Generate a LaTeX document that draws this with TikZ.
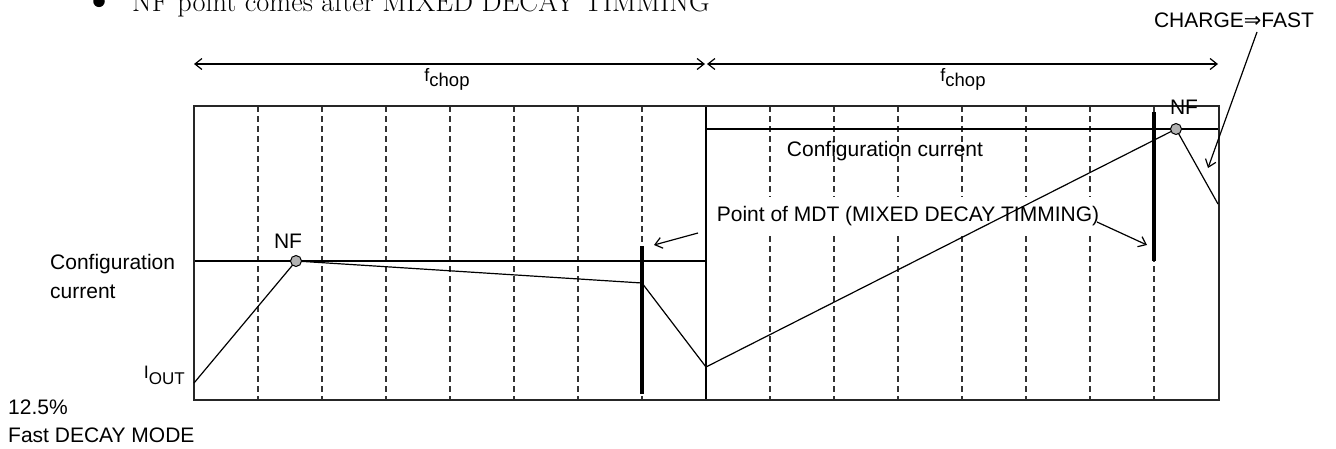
\documentclass[tikz,border=0pt]{standalone}
\usepackage{fontspec}
\newfontfamily\arial{Liberation Sans}
\newfontfamily\djfont{DejaVu Sans}
\usetikzlibrary{arrows.meta}
\tikzset{
  txt/.style={font=\arial\fontsize{21}{29}\selectfont, inner sep=0pt},
  thin/.style={line width=1.2pt, black},
  boxline/.style={line width=1.5pt, black!85},
  dashln/.style={line width=1.2pt, black!80, dash pattern=on 6pt off 4pt},
  bar/.style={line width=4pt, black},
  arr/.style={line width=1.2pt, -{Straight Barb[length=7pt,width=11pt,line width=1.2pt]}},
  darr/.style={line width=1.2pt, {Straight Barb[length=7pt,width=11pt,line width=1.2pt]}-{Straight Barb[length=7pt,width=11pt,line width=1.2pt]}},
  nfdot/.style={circle, draw=black, line width=1pt, fill=black!30, minimum size=11pt, inner sep=0pt},
}
\begin{document}
\begin{tikzpicture}[x=1pt,y=-1pt]
\useasboundingbox (0,0) rectangle (1336,448);
% title (cut off at top)
\node[circle, fill=black, minimum size=11.5pt, inner sep=0pt] (bul) at (99,1.3) {};
\node[anchor=base west, inner sep=0pt, font=\fontsize{28.3}{28.3}\selectfont] (title) at (132,11.7) {NF point comes after MIXED DECAY TIMMING};
% top period arrows
\coordinate (t0) at (194,64);
\coordinate (t1) at (705,64);
\coordinate (t2) at (707,64);
\coordinate (t3) at (1218,64);
\draw[darr] (t0) -- (t1);
\draw[darr] (t2) -- (t3);
\node[txt, font=\arial\fontsize{18}{18}\selectfont] (f1) at (447,79) {f\raisebox{-0.27em}{\fontsize{18.5}{18.5}\selectfont chop}};
\node[txt, font=\arial\fontsize{18}{18}\selectfont] (f2) at (963,79) {f\raisebox{-0.27em}{\fontsize{18.5}{18.5}\selectfont chop}};
% grid
\foreach \x in {258,322,...,642} \draw[dashln] (\x,106) -- (\x,400);
\foreach \x in {770,834,...,1154} \draw[dashln] (\x,106) -- (\x,400);
\draw[thin] (706,106) -- (706,400);
\draw[thin] (194,261) -- (706,261);
\draw[thin] (706,129) -- (1219,129);
\draw[boxline] (194,106) rectangle (1219,400);
% MDT label
\node[txt, fill=white, minimum height=38pt, inner xsep=5pt] (mdt) at (908,216) {Point of MDT (MIXED DECAY TIMMING)};
\node[txt] (cc2) at (885,151) {Configuration current};
% thick bars
\coordinate (b1t) at (642,246);
\coordinate (b1b) at (642,394);
\coordinate (b2t) at (1154,112);
\coordinate (b2b) at (1154,261);
\draw[bar] (b1t) -- (b1b);
\draw[bar] (b2t) -- (b2b);
% waveform
\coordinate (p0) at (194,383);
\coordinate (n1) at (296,261);
\coordinate (p2) at (642,283);
\coordinate (p3) at (706,367);
\coordinate (n2) at (1176,129);
\coordinate (p5) at (1218,204);
\draw[thin] (p0) -- (n1) -- (p2) -- (p3) -- (n2) -- (p5);
\node[nfdot] (dot1) at (n1) {};
\node[nfdot] (dot2) at (n2) {};
\node[txt] (nf1) at (288,241) {NF};
\node[txt] (nf2) at (1184,107) {NF};
% MDT arrows
\coordinate (a1s) at (698,233);
\coordinate (a1e) at (654,245);
\coordinate (a2s) at (1097,222);
\coordinate (a2e) at (1147,245);
\draw[arr] (a1s) -- (a1e);
\draw[arr] (a2s) -- (a2e);
% charge -> fast
\node[txt] (chg) at (1234,20) {CHARGE{\djfont ⇒}FAST};
\coordinate (c1s) at (1257,32);
\coordinate (c1e) at (1208,168);
\draw[arr] (c1s) -- (c1e);
% left labels
\node[txt, anchor=west, align=left] (cc1) at (50,276) {Configuration\\current};
\node[txt, anchor=east, font=\arial\fontsize{18}{18}\selectfont] (iout) at (185,375) {I\raisebox{-0.33em}{\fontsize{17}{17}\selectfont OUT}};
\node[txt, anchor=west] (pct) at (8,407) {12.5\%};
\node[txt, anchor=west] (fdm) at (8,435) {Fast DECAY MODE};
\end{tikzpicture}
\end{document}
